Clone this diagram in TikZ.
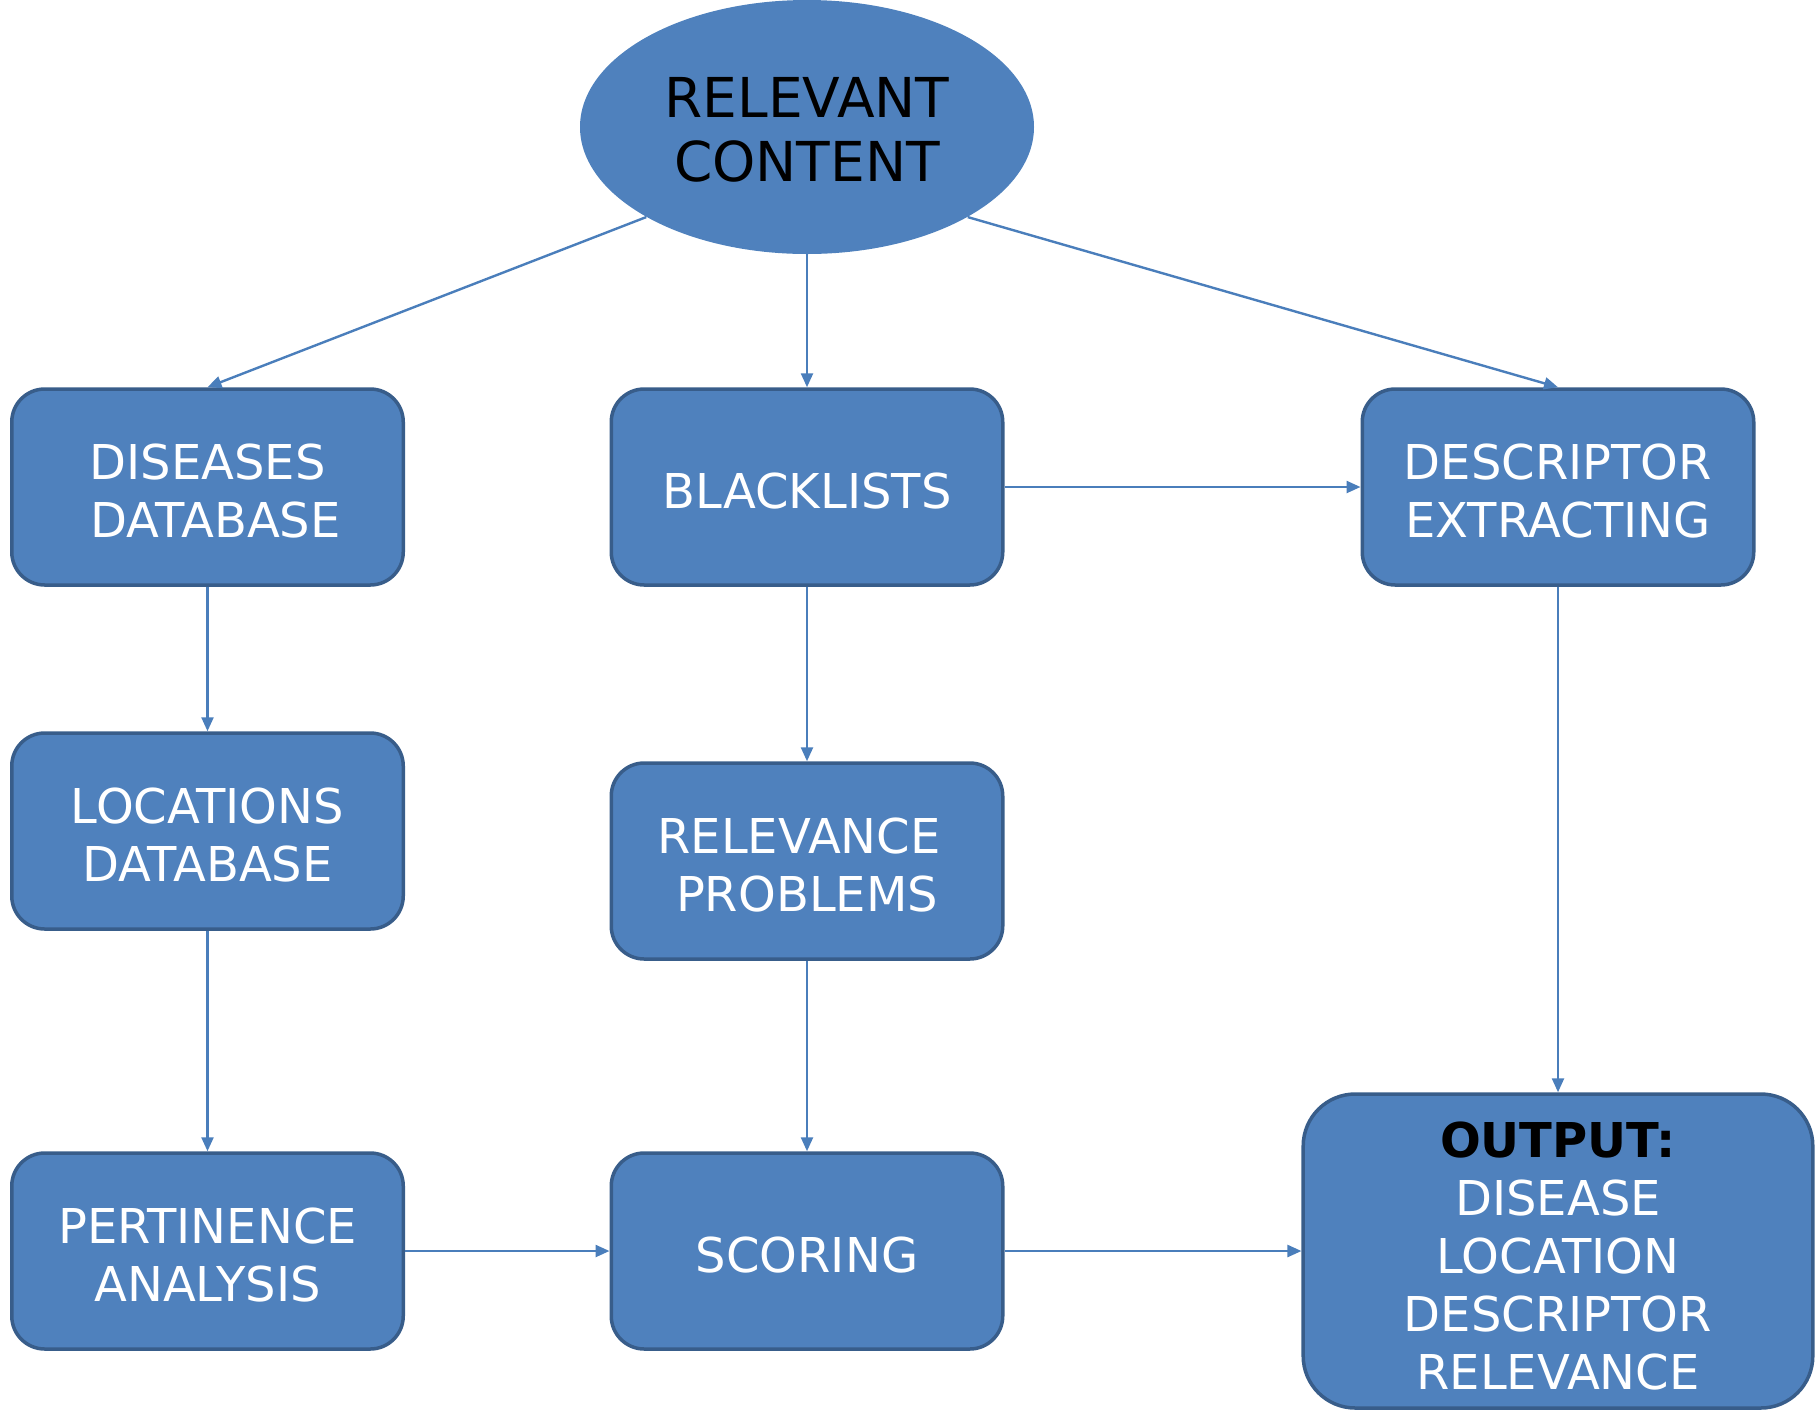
\documentclass[tikz,border=0pt]{standalone}
\usepackage{fontspec}
\setmainfont{DejaVu Sans}
\usetikzlibrary{shapes.geometric,arrows.meta}
\definecolor{boxfill}{HTML}{4F81BD}
\definecolor{boxline}{HTML}{385D8A}
\definecolor{conn}{HTML}{4A7EBB}
\tikzset{
  procbox/.style={rectangle, rounded corners=16.5pt, draw=boxline, line width=1.75pt, fill=boxfill,
    minimum width=195.75pt, minimum height=98pt, inner sep=0pt},
  outbox/.style={procbox, rounded corners=26pt, minimum width=254.8pt, minimum height=157pt},
  topell/.style={ellipse, fill=boxfill, minimum width=227pt, minimum height=127pt, inner sep=0pt},
  boxtext/.style={text=white, align=center, font=\fontsize{24}{29}\selectfont, inner sep=0pt, yshift=-1.8pt},
  elltext/.style={text=black, align=center, font=\fontsize{27.5}{32}\selectfont, inner sep=0pt, yshift=-1.6pt},
  conn/.style={draw=conn, line width=1.2pt, -{Triangle[length=7pt,width=6pt]}}
}
\begin{document}
\begin{tikzpicture}[x=0.5pt,y=-0.5pt]
\useasboundingbox (0,0) rectangle (1816,1410);
\node[topell] (rc) at (807,127) {};
\node[elltext] (rct) at (rc.center) {RELEVANT\\CONTENT};
\node[procbox] (dis) at (207.5,487) {};
\node[boxtext] (dist) at (dis.center) {DISEASES\\\hspace*{8pt}DATABASE};
\node[procbox] (bl) at (807,487) {};
\node[boxtext] (blt) at (bl.center) {BLACKLISTS};
\node[procbox] (desc) at (1558,487) {};
\node[boxtext] (desct) at (desc.center) {DESCRIPTOR\\EXTRACTING};
\node[procbox] (loc) at (207.5,831) {};
\node[boxtext] (loct) at (loc.center) {LOCATIONS\\DATABASE};
\node[procbox] (rel) at (807,861) {};
\node[boxtext] (relt) at (rel.center) {RELEVANCE\hspace*{8pt}\\PROBLEMS};
\node[procbox] (per) at (207.5,1251) {};
\node[boxtext] (pert) at (per.center) {PERTINENCE\\ANALYSIS};
\node[procbox] (sc) at (807,1251) {};
\node[boxtext] (sct) at (sc.center) {SCORING};
\node[outbox] (out) at (1558,1251) {};
\node[boxtext, yshift=-0.8pt] (outt) at (out.center) {{\color{black}\bfseries OUTPUT:}\\DISEASE\\LOCATION\\DESCRIPTOR\\RELEVANCE};
\draw[conn] (rc.south west) -- (dis.north);
\draw[conn] (rc.south) -- (bl.north);
\draw[conn] (rc.south east) -- (desc.north);
\draw[conn] (bl.east) -- (desc.west);
\draw[conn] (dis.south) -- (loc.north);
\draw[conn] (loc.south) -- (per.north);
\draw[conn] (bl.south) -- (rel.north);
\draw[conn] (rel.south) -- (sc.north);
\draw[conn] (desc.south) -- (out.north);
\draw[conn] (per.east) -- (sc.west);
\draw[conn] (sc.east) -- (out.west);
\end{tikzpicture}
\end{document}
